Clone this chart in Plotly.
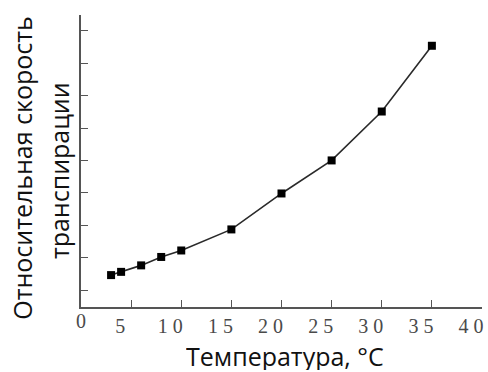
import plotly.graph_objects as go

temps = [3, 4, 6, 8, 10, 15, 20, 25, 30, 35]
rates = [1.46, 1.56, 1.76, 2.02, 2.22, 2.87, 3.98, 5.0, 6.51, 8.54]
x_tick_vals = [5, 10, 15, 20, 25, 30, 35, 40]
x_tick_text = ["5", "1 0", "1 5", "2 0", "2 5", "3 0", "3 5", "4 0"]
y_tick_vals = [1, 2, 3, 4, 5, 6, 7, 8, 9]
x_title = "Температура, °C"
y_title_1 = "Относительная скорость"
y_title_2 = "транспирации"

W, H = 488, 372
L, R, T, B = 81, 4, 15, 65
pw, ph = W - L - R, H - T - B

def px(x):
    return (x - L) / pw

def py(y):
    return (H - B - y) / ph

fig = go.Figure()
fig.add_trace(go.Scatter(
    x=temps, y=rates, mode="lines+markers",
    line=dict(color="#2a2a2a", width=1.6),
    marker=dict(symbol="square", size=8, color="#000000"),
    showlegend=False,
))
# invisible trace on secondary axis for the "0" label
fig.add_trace(go.Scatter(x=[0], y=[1], xaxis="x2", mode="markers",
                         marker=dict(opacity=0), showlegend=False, hoverinfo="skip"))

tickfont = dict(family="Liberation Serif", size=20, color="#4a4a4a")
fig.update_layout(
    width=W, height=H,
    margin=dict(l=L, r=R, t=T, b=B),
    paper_bgcolor="white", plot_bgcolor="white",
    xaxis=dict(
        range=[0, 40], tickvals=x_tick_vals, ticktext=x_tick_text,
        ticks="inside", ticklen=7, tickwidth=1.3, tickcolor="#555555",
        showline=True, linecolor="#555555", linewidth=1.6,
        showgrid=False, zeroline=False, tickfont=tickfont,
        ticklabelshift=-11,
    ),
    xaxis2=dict(
        range=[0, 40], overlaying="x", side="bottom", tickvals=[0], ticktext=["0"],
        ticks="", showline=False, showgrid=False, zeroline=False, tickfont=tickfont,
    ),
    yaxis=dict(
        range=[0.475, 9.49], tickvals=y_tick_vals, showticklabels=False,
        ticks="inside", ticklen=7, tickwidth=1.3, tickcolor="#555555",
        showline=True, linecolor="#555555", linewidth=1.6,
        showgrid=False, zeroline=False,
    ),
    annotations=[
        dict(text=x_title, xref="paper", yref="paper", x=px(286), y=py(356),
             xanchor="center", yanchor="middle", showarrow=False,
             height=28, borderpad=0, valign="middle",
             font=dict(family="Open Sans", size=25, color="#111111")),
        dict(text=y_title_1, xref="paper", yref="paper", x=px(21), y=py(167.5),
             xanchor="center", yanchor="middle", showarrow=False, textangle=-90,
             font=dict(family="Open Sans", size=25, color="#111111")),
        dict(text=y_title_2, xref="paper", yref="paper", x=px(59), y=py(171),
             xanchor="center", yanchor="middle", showarrow=False, textangle=-90,
             font=dict(family="Open Sans", size=25, color="#111111")),
    ],
)
fig.write_html("out.html")
